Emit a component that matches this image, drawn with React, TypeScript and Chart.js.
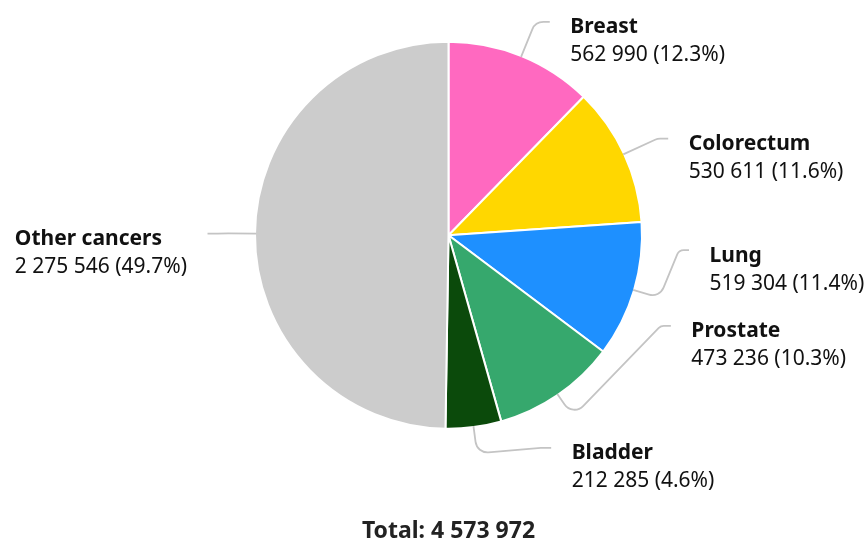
import React, { useEffect, useRef } from "react";
import { Chart, registerables } from "chart.js";

Chart.register(...registerables);

// ---- data ----
const categories = ["Breast", "Colorectum", "Lung", "Prostate", "Bladder", "Other cancers"];
const cases = [562990, 530611, 519304, 473236, 212285, 2275546];
const sliceColors = ["#ff69c0", "#ffd700", "#1e90ff", "#36a86d", "#0b4a0b", "#cccccc"];
const totalLabel = "Total";

// ---- label layout tweaks (vertical de-collision offsets, px) ----
const LABEL_NUDGE_Y = [4.4, 2.0, -51.9, -103.2, -20.4, 0.2];

const FONT = "'Noto Sans', 'Open Sans', sans-serif";

function fmt(n: number): string {
  return String(n).replace(/\B(?=(\d{3})+(?!\d))/g, " ");
}

const pieLabels = {
  id: "pieLabels",
  afterDraw(chart: any) {
    const ctx: CanvasRenderingContext2D = chart.ctx;
    const meta = chart.getDatasetMeta(0);
    const total = cases.reduce((a, b) => a + b, 0);
    ctx.save();
    meta.data.forEach((arc: any, i: number) => {
      const p = arc.getProps(["x", "y", "startAngle", "endAngle", "outerRadius"], true);
      const cx = p.x, cy = p.y;
      const r = p.outerRadius - 1;
      const a = (p.startAngle + p.endAngle) / 2;
      const ca = Math.cos(a), sa = Math.sin(a);
      const side = ca >= 0 ? 1 : -1;
      const natR = r + 42.5;
      const y = cy + sa * natR + LABEL_NUDGE_Y[i];
      const dy = y - cy;
      const ax = r + 48.5, byR = r + 42.5;
      const xEnd = cx + side * ax * Math.sqrt(Math.max(0, 1 - (dy / byR) * (dy / byR)));
      const rbMin = r + 27.5;
      let rb = rbMin;
      let onLine = false;
      if (Math.abs(sa) > 1e-3) {
        const t = dy / sa;
        const bxT = cx + ca * t;
        if (t > rbMin && side * (xEnd - bxT) > 4) {
          rb = t;
          onLine = true;
        }
      }
      const pts: number[][] = [[xEnd, y]];
      const radii: number[] = [0];
      if (!onLine) {
        pts.push([xEnd - side * 10, y]);
        radii.push(7);
      }
      pts.push([cx + ca * rb, cy + sa * rb]);
      radii.push(12);
      pts.push([cx + ca * r, cy + sa * r]);

      ctx.beginPath();
      ctx.moveTo(pts[0][0], pts[0][1]);
      for (let k = 1; k < pts.length - 1; k++) {
        ctx.arcTo(pts[k][0], pts[k][1], pts[k + 1][0], pts[k + 1][1], radii[k]);
      }
      ctx.lineTo(pts[pts.length - 1][0], pts[pts.length - 1][1]);
      ctx.strokeStyle = "#c4c4c4";
      ctx.lineWidth = 1.8;
      ctx.lineJoin = "round";
      ctx.lineCap = "butt";
      ctx.stroke();

      const title = categories[i];
      const value = fmt(cases[i]) + " (" + ((cases[i] / total) * 100).toFixed(1) + "%)";
      ctx.textBaseline = "alphabetic";
      ctx.textAlign = "left";
      ctx.fillStyle = "#111111";
      ctx.font = "bold 21px " + FONT;
      const w1 = ctx.measureText(title).width;
      ctx.font = "21px " + FONT;
      const w2 = ctx.measureText(value).width;
      const tx = side > 0 ? xEnd + 20.5 : xEnd - 20.5 - Math.max(w1, w2);
      ctx.font = "bold 21px " + FONT;
      ctx.fillText(title, tx, y + 11.5);
      ctx.font = "21px " + FONT;
      ctx.fillText(value, tx, y + 39.5);
    });

    const arc0 = meta.data[0];
    ctx.font = "bold 23px " + FONT;
    ctx.textAlign = "center";
    ctx.fillStyle = "#222222";
    ctx.fillText(totalLabel + ": " + fmt(total), arc0.x, 537.5);
    ctx.restore();
  },
};

export default function App() {
  const ref = useRef<HTMLCanvasElement | null>(null);
  useEffect(() => {
    if (!ref.current) return;
    const chart = new Chart(ref.current, {
      type: "pie",
      data: {
        labels: categories,
        datasets: [
          {
            data: cases,
            backgroundColor: sliceColors,
            borderColor: "#ffffff",
            borderWidth: 2,
            radius: 193.5,
          } as any,
        ],
      },
      options: {
        responsive: false,
        animation: false,
        radius: 193.5,
        layout: { padding: { left: 60, right: 27, top: 10, bottom: 79.6 } },
        plugins: {
          legend: { display: false },
          tooltip: { enabled: false },
          title: { display: false },
        },
      } as any,
      plugins: [pieLabels],
    });
    return () => chart.destroy();
  }, []);
  return (
    <div style={{ position: "absolute", left: 0, top: 0, width: 864, height: 540, background: "#fff" }}>
      <canvas ref={ref} width={864} height={540} style={{ display: "block" }} />
    </div>
  );
}
